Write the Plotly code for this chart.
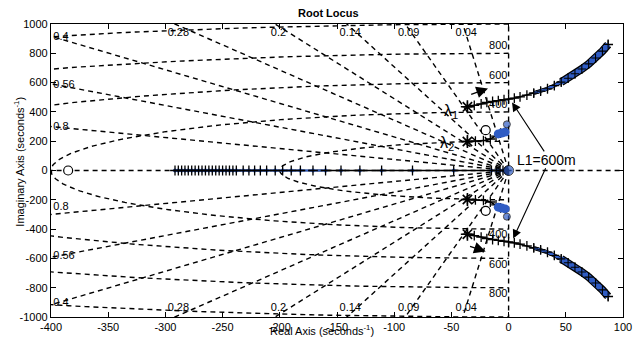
import numpy as np
import plotly.graph_objects as go

# ---------------- data ----------------
# s-plane grid parameters
zeta_vals = [0.04, 0.09, 0.14, 0.2, 0.28, 0.4, 0.56, 0.8]
zeta_top = [0.04, 0.09, 0.14, 0.2, 0.28]
zeta_left = [0.4, 0.56, 0.8]
wn_vals = [200, 400, 600, 800, 1000]
wn_labeled = [400, 600, 800]

# real-axis locus markers
real_x = [-291.6, -288.7, -285.8, -282.9, -280.0, -277.0, -274.0, -271.0, -268.0,
          -265.0, -262.0, -259.0, -256.0, -253.0, -250.0, -247.0, -244.0, -241.0,
          -238.0, -232.0, -227.0, -222.0, -217.0, -211.5, -204.0, -197.5, -190.0,
          -182.0, -171.0, -160.0, -146.5, -130.0, -111.0, -84.0, -48.0, -15.0,
          -10.4, -7.5, -4.9]

# lambda-1 branch (upper half; lower half is its mirror)
b1_x = [-36, -30, -24, -19, -14, -9, -4, 0, 5, 10, 16, 22, 28, 34, 40, 46, 52, 58, 64, 70, 76, 82, 87]
b1_y = [435, 445, 455, 465, 471, 477, 483, 487, 494, 503, 515, 528, 542, 558, 580, 603, 630, 660,
        693, 728, 768, 815, 860]

# lambda-2 branch (upper half)
b2_x = [-36, -29, -22, -16, -11, -7]
b2_y = [198, 200, 204, 215, 235, 255]

zero_x = [-385]
zero_y = [0]
open_x = [-20, -20]
open_y = [275, -275]
pole_x = [0, -1.5, -1.5]
pole_y = [0, 315, -315]
blob_x = [-9, -6, -3]
blob_y = [250, 256, 262]

x_ticks = [-400, -350, -300, -250, -200, -150, -100, -50, 0, 50, 100]
y_ticks = [-1000, -800, -600, -400, -200, 0, 200, 400, 600, 800, 1000]

BLUE = "#2f5cc4"
FONT = "Liberation Sans, Arial, sans-serif"
DASH = "5px,4px"

fig = go.Figure()

# ---------------- s-plane grid ----------------
gx, gy = [], []
L = 6000
for z in zeta_vals:
    s = np.sqrt(1 - z * z)
    for sign in (1, -1):
        gx += [0, -z * L, None]
        gy += [0, sign * s * L, None]
phi = np.linspace(np.pi / 2, 3 * np.pi / 2, 200)
for wn in wn_vals:
    gx += list(wn * np.cos(phi)) + [None]
    gy += list(wn * np.sin(phi)) + [None]
# zeta = 0 and zeta = 1 lines
gx += [0, 0, None, -2000, 2000, None]
gy += [-2000, 2000, None, 0, 0, None]
fig.add_trace(go.Scatter(x=gx, y=gy, mode="lines",
                         line=dict(color="black", width=1.4, dash=DASH),
                         hoverinfo="skip", showlegend=False))

# grid labels
lab_x, lab_y, lab_t = [], [], []
for z in zeta_top:
    xl = -1000 * z / np.sqrt(1 - z * z) + 3
    for sgn in (1, -1):
        lab_x.append(xl)
        lab_y.append(sgn * 940)
        lab_t.append(str(z))
fig.add_trace(go.Scatter(x=lab_x, y=lab_y, text=lab_t, mode="text",
                         textfont=dict(family=FONT, size=11, color="black"),
                         textposition="middle center", hoverinfo="skip", showlegend=False))
lx, ly, lt = [], [], []
for z in zeta_left:
    yl = 400 * np.sqrt(1 - z * z) / z - 8
    lx += [-398, -398]
    ly += [yl, -yl if z != 0.8 else -250]
    lt += [str(z), str(z)]
fig.add_trace(go.Scatter(x=lx, y=ly, text=lt, mode="text",
                         textfont=dict(family=FONT, size=11, color="black"),
                         textposition="middle right", hoverinfo="skip", showlegend=False))
wx, wy, wt = [], [], []
for wn in wn_labeled:
    wx += [-1, -1]
    wy += [wn + 45, -(wn + 45)]
    wt += [str(wn), str(wn)]
fig.add_trace(go.Scatter(x=wx, y=wy, text=wt, mode="text",
                         textfont=dict(family=FONT, size=11, color="black"),
                         textposition="middle left", hoverinfo="skip", showlegend=False))

PLUS = dict(symbol="cross-thin-open", size=7, color="black", line=dict(color="black", width=1.3))
PLUS_S = dict(symbol="cross-thin-open", size=6, color="black", line=dict(color="black", width=1.1))

# ---------------- root locus ----------------
# real axis branch
fig.add_trace(go.Scatter(x=real_x + [0], y=[0] * (len(real_x) + 1), mode="lines",
                         line=dict(color="black", width=1.5), hoverinfo="skip", showlegend=False))
dense = [v for v in real_x if v <= -160]
fig.add_trace(go.Scatter(x=dense, y=[0] * len(dense), mode="lines",
                         line=dict(color=BLUE, width=2), hoverinfo="skip", showlegend=False))
fig.add_trace(go.Scatter(x=real_x, y=[0] * len(real_x), mode="markers",
                         marker=dict(symbol="circle", size=4, color=BLUE),
                         hoverinfo="skip", showlegend=False))
fig.add_trace(go.Scatter(x=real_x, y=[0] * len(real_x), mode="markers", marker=PLUS,
                         hoverinfo="skip", showlegend=False))

for sgn in (1, -1):
    by = [sgn * v for v in b1_y]
    fig.add_trace(go.Scatter(x=b1_x, y=by, mode="lines+markers",
                             line=dict(color="black", width=1.5), marker=PLUS,
                             hoverinfo="skip", showlegend=False))
    # thick blue tail
    tx = [x for x in b1_x if x >= 20]
    ty = [y for x, y in zip(b1_x, by) if x >= 20]
    tx2 = [x for x in b1_x if x >= 45]
    ty2 = [y for x, y in zip(b1_x, by) if x >= 45]
    fig.add_trace(go.Scatter(x=tx, y=ty, mode="lines", line=dict(color="black", width=4),
                             hoverinfo="skip", showlegend=False))
    fig.add_trace(go.Scatter(x=tx2, y=ty2, mode="lines", line=dict(color="black", width=8),
                             hoverinfo="skip", showlegend=False))
    fig.add_trace(go.Scatter(x=tx, y=ty, mode="lines", line=dict(color=BLUE, width=2.5),
                             hoverinfo="skip", showlegend=False))
    fig.add_trace(go.Scatter(x=tx2, y=ty2, mode="lines", line=dict(color=BLUE, width=5.5),
                             hoverinfo="skip", showlegend=False))
    fig.add_trace(go.Scatter(x=tx, y=ty, mode="markers", marker=PLUS_S,
                             hoverinfo="skip", showlegend=False))
    # lambda-2 branch
    b2y = [sgn * v for v in b2_y]
    fig.add_trace(go.Scatter(x=b2_x, y=b2y, mode="lines+markers",
                             line=dict(color="black", width=1.5), marker=PLUS,
                             hoverinfo="skip", showlegend=False))
    # start stars
    fig.add_trace(go.Scatter(x=[b1_x[0], b2_x[0]], y=[by[0], b2y[0]], mode="markers",
                             marker=dict(symbol="asterisk-open", size=11, color="black",
                                         line=dict(color="black", width=1.6)),
                             hoverinfo="skip", showlegend=False))
    # blue blob
    fig.add_trace(go.Scatter(x=blob_x, y=[sgn * v for v in blob_y], mode="markers",
                             marker=dict(symbol="circle", size=9, color=BLUE,
                                         line=dict(color=BLUE, width=0)),
                             hoverinfo="skip", showlegend=False))

# zero and open circles
fig.add_trace(go.Scatter(x=zero_x + open_x, y=zero_y + open_y, mode="markers",
                         marker=dict(symbol="circle", size=9, color="white",
                                     line=dict(color="black", width=1.2)),
                         hoverinfo="skip", showlegend=False))
# blue poles
fig.add_trace(go.Scatter(x=pole_x, y=pole_y, mode="markers",
                         marker=dict(symbol="circle", size=[10, 7, 7], color=BLUE,
                                     line=dict(color="black", width=1)),
                         hoverinfo="skip", showlegend=False))

annotations = []
# L1 label and arrows
annotations.append(dict(x=33, y=73, xref="x", yref="y", text="L1=600m", showarrow=False,
                        font=dict(family=FONT, size=14, color="black")))
for (hx, hy, tx_, ty_) in [(3, 465, 32, 120), (4, -465, 33, 25)]:
    annotations.append(dict(x=hx, y=hy, ax=tx_, ay=ty_, xref="x", yref="y", axref="x", ayref="y",
                            text="", showarrow=True, arrowhead=2, arrowsize=1.6,
                            arrowwidth=1.1, arrowcolor="black"))
for (hx, hy, tx_, ty_) in [(-18, 560, -34, 516), (-20, -553, -35, -514)]:
    annotations.append(dict(x=hx, y=hy, ax=tx_, ay=ty_, xref="x", yref="y", axref="x", ayref="y",
                            text="", showarrow=True, arrowhead=2, arrowsize=1.8,
                            arrowwidth=1.3, arrowcolor="black"))
annotations.append(dict(x=-50, y=405, xref="x", yref="y", text="λ<sub>1</sub>", showarrow=False,
                        font=dict(family=FONT, size=16, color="black")))
annotations.append(dict(x=-54, y=185, xref="x", yref="y", text="λ<sub>2</sub>", showarrow=False,
                        font=dict(family=FONT, size=16, color="black")))
# titles
annotations.append(dict(x=0.486, y=1.036, xref="paper", yref="paper", text="<b>Root Locus</b>",
                        showarrow=False, font=dict(family=FONT, size=11, color="black"),
                        xanchor="center", yanchor="middle"))
annotations.append(dict(x=0.474, y=-0.045, xref="paper", yref="paper",
                        text="Real Axis (seconds<sup>-1</sup>)",
                        showarrow=False, font=dict(family=FONT, size=11, color="black"),
                        xanchor="center", yanchor="middle"))
annotations.append(dict(x=-0.056, y=0.53, xref="paper", yref="paper",
                        text="Imaginary Axis (seconds<sup>-1</sup>)", textangle=-90,
                        showarrow=False, font=dict(family=FONT, size=11, color="black"),
                        xanchor="center", yanchor="middle"))

axis_common = dict(showgrid=False, zeroline=False, showline=True, linecolor="black",
                   linewidth=1.3, mirror="ticks", ticks="inside", ticklen=5,
                   tickcolor="black", tickwidth=1.2,
                   tickfont=dict(family=FONT, size=11, color="black"))

fig.update_layout(
    width=644, height=345,
    margin=dict(l=51, r=21, t=24, b=18),
    paper_bgcolor="white", plot_bgcolor="white",
    xaxis=dict(range=[-400, 100], tickvals=x_ticks, ticktext=[str(v) for v in x_ticks],
               **axis_common),
    yaxis=dict(range=[-1000, 1000], tickvals=y_ticks, ticktext=[str(v) for v in y_ticks],
               **axis_common),
    annotations=annotations,
    showlegend=False,
)

fig.write_html("out.html")
